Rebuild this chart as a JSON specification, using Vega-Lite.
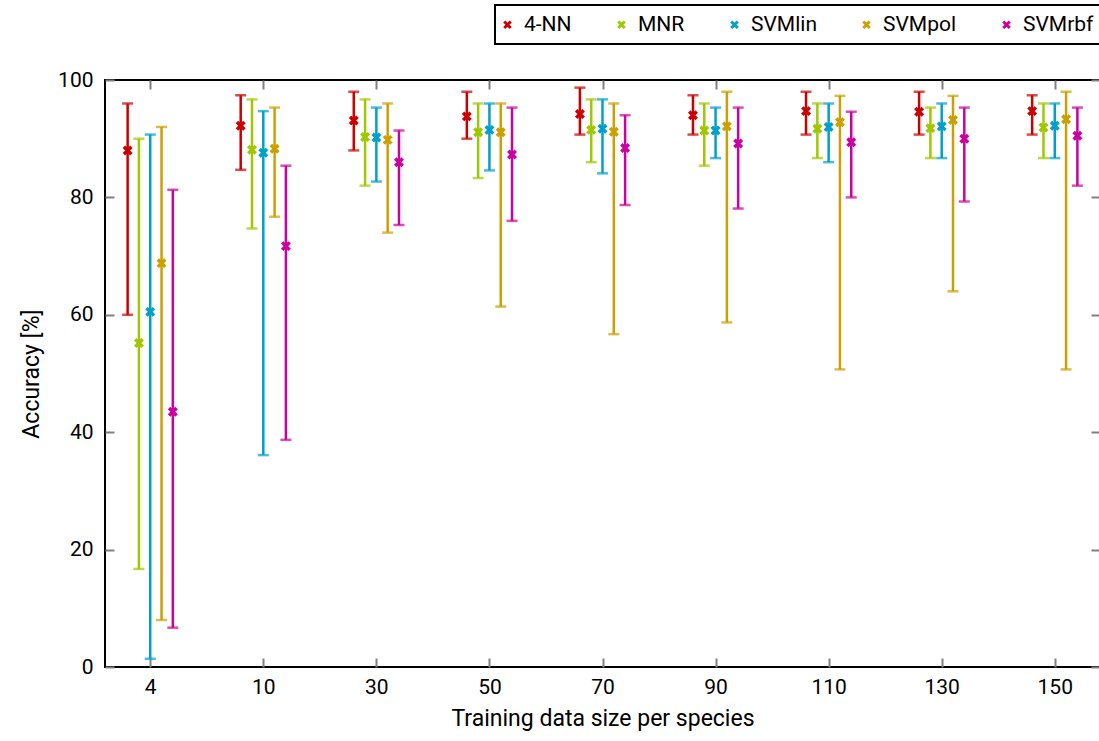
{
  "$schema": "https://vega.github.io/schema/vega-lite/v6.json",
  "autosize": "none",
  "width": 995,
  "height": 587,
  "padding": {"left": 105, "top": 80, "right": 0, "bottom": 74},
  "background": "white",
  "config": {
    "view": {"stroke": "black", "strokeWidth": 2},
    "font": "Roboto",
    "axis": {
      "grid": false,
      "domain": false,
      "tickColor": "#808080",
      "tickWidth": 2,
      "tickSize": -9,
      "labelFont": "Roboto",
      "labelFontSize": 21,
      "labelColor": "black",
      "titleFont": "Roboto",
      "titleFontSize": 23,
      "titleFontWeight": "normal",
      "titleColor": "black"
    }
  },
  "data": {
    "values": [
      {"size": "4", "series": "4-NN", "mean": 88.0, "lo": 60.0, "hi": 96.0},
      {"size": "4", "series": "MNR", "mean": 55.2, "lo": 16.7, "hi": 90.0},
      {"size": "4", "series": "SVMlin", "mean": 60.5, "lo": 1.4, "hi": 90.7},
      {"size": "4", "series": "SVMpol", "mean": 68.8, "lo": 8.0, "hi": 92.0},
      {"size": "4", "series": "SVMrbf", "mean": 43.5, "lo": 6.7, "hi": 81.3},
      {"size": "10", "series": "4-NN", "mean": 92.2, "lo": 84.7, "hi": 97.4},
      {"size": "10", "series": "MNR", "mean": 88.1, "lo": 74.7, "hi": 96.7},
      {"size": "10", "series": "SVMlin", "mean": 87.6, "lo": 36.1, "hi": 94.7},
      {"size": "10", "series": "SVMpol", "mean": 88.3, "lo": 76.7, "hi": 95.3},
      {"size": "10", "series": "SVMrbf", "mean": 71.7, "lo": 38.7, "hi": 85.4},
      {"size": "30", "series": "4-NN", "mean": 93.1, "lo": 88.0, "hi": 98.0},
      {"size": "30", "series": "MNR", "mean": 90.3, "lo": 82.0, "hi": 96.7},
      {"size": "30", "series": "SVMlin", "mean": 90.2, "lo": 82.7, "hi": 95.3},
      {"size": "30", "series": "SVMpol", "mean": 89.8, "lo": 74.0, "hi": 96.0},
      {"size": "30", "series": "SVMrbf", "mean": 86.0, "lo": 75.3, "hi": 91.4},
      {"size": "50", "series": "4-NN", "mean": 93.8, "lo": 90.0, "hi": 98.0},
      {"size": "50", "series": "MNR", "mean": 91.1, "lo": 83.3, "hi": 96.0},
      {"size": "50", "series": "SVMlin", "mean": 91.5, "lo": 84.6, "hi": 96.0},
      {"size": "50", "series": "SVMpol", "mean": 91.1, "lo": 61.4, "hi": 96.0},
      {"size": "50", "series": "SVMrbf", "mean": 87.3, "lo": 76.0, "hi": 95.3},
      {"size": "70", "series": "4-NN", "mean": 94.2, "lo": 90.7, "hi": 98.7},
      {"size": "70", "series": "MNR", "mean": 91.5, "lo": 86.0, "hi": 96.7},
      {"size": "70", "series": "SVMlin", "mean": 91.7, "lo": 84.1, "hi": 96.7},
      {"size": "70", "series": "SVMpol", "mean": 91.2, "lo": 56.7, "hi": 96.0},
      {"size": "70", "series": "SVMrbf", "mean": 88.4, "lo": 78.7, "hi": 94.0},
      {"size": "90", "series": "4-NN", "mean": 94.0, "lo": 90.7, "hi": 97.4},
      {"size": "90", "series": "MNR", "mean": 91.4, "lo": 85.4, "hi": 96.0},
      {"size": "90", "series": "SVMlin", "mean": 91.4, "lo": 86.7, "hi": 95.3},
      {"size": "90", "series": "SVMpol", "mean": 92.1, "lo": 58.7, "hi": 98.0},
      {"size": "90", "series": "SVMrbf", "mean": 89.2, "lo": 78.1, "hi": 95.3},
      {"size": "110", "series": "4-NN", "mean": 94.7, "lo": 90.7, "hi": 98.0},
      {"size": "110", "series": "MNR", "mean": 91.7, "lo": 86.7, "hi": 96.0},
      {"size": "110", "series": "SVMlin", "mean": 92.0, "lo": 86.0, "hi": 96.0},
      {"size": "110", "series": "SVMpol", "mean": 92.8, "lo": 50.7, "hi": 97.3},
      {"size": "110", "series": "SVMrbf", "mean": 89.4, "lo": 80.0, "hi": 94.6},
      {"size": "130", "series": "4-NN", "mean": 94.6, "lo": 90.7, "hi": 98.0},
      {"size": "130", "series": "MNR", "mean": 91.8, "lo": 86.7, "hi": 95.3},
      {"size": "130", "series": "SVMlin", "mean": 92.1, "lo": 86.7, "hi": 96.0},
      {"size": "130", "series": "SVMpol", "mean": 93.2, "lo": 64.0, "hi": 97.3},
      {"size": "130", "series": "SVMrbf", "mean": 90.0, "lo": 79.3, "hi": 95.3},
      {"size": "150", "series": "4-NN", "mean": 94.7, "lo": 90.7, "hi": 97.4},
      {"size": "150", "series": "MNR", "mean": 91.9, "lo": 86.7, "hi": 96.0},
      {"size": "150", "series": "SVMlin", "mean": 92.2, "lo": 86.7, "hi": 96.0},
      {"size": "150", "series": "SVMpol", "mean": 93.3, "lo": 50.7, "hi": 98.0},
      {"size": "150", "series": "SVMrbf", "mean": 90.5, "lo": 82.0, "hi": 95.3}
    ]
  },
  "encoding": {
    "xOffset": {
      "field": "series",
      "type": "nominal",
      "sort": ["4-NN", "MNR", "SVMlin", "SVMpol", "SVMrbf"],
      "scale": {"type": "point", "padding": 0, "range": [-22.6, 22.6]}
    },
    "color": {
      "field": "series",
      "type": "nominal",
      "sort": ["4-NN", "MNR", "SVMlin", "SVMpol", "SVMrbf"],
      "scale": {
        "domain": ["4-NN", "MNR", "SVMlin", "SVMpol", "SVMrbf"],
        "range": ["#cc0000", "#a0c800", "#00a0cc", "#cca000", "#cc00a0"]
      },
      "legend": {
        "orient": "none",
        "legendX": 390,
        "legendY": -75,
        "direction": "horizontal",
        "columns": 5,
        "title": null,
        "strokeColor": "black",
        "cornerRadius": 0,
        "padding": 9,
        "fillColor": "white",
        "labelFont": "Roboto",
        "labelFontSize": 21,
        "labelColor": "black",
        "labelOffset": 6,
        "symbolOffset": -7,
        "columnPadding": 40,
        "symbolType": "M-1,-1L1,1M-1,1L1,-1",
        "symbolSize": 42,
        "symbolStrokeWidth": 3,
        "symbolFillColor": "transparent",
        "encode": {"legend": {"update": {"strokeWidth": {"value": 2}}}}
      }
    }
  },
  "layer": [
    {
      "mark": {"type": "rule", "strokeWidth": 2.5},
      "encoding": {
        "x": {
          "field": "size",
          "type": "ordinal",
          "sort": ["4", "10", "30", "50", "70", "90", "110", "130", "150"],
          "scale": {"type": "point", "padding": 0.4},
          "axis": {"orient": "bottom", "title": "Training data size per species", "labelAngle": 0, "labelPadding": 18, "titlePadding": 10}
        },
        "y": {
          "field": "lo",
          "type": "quantitative",
          "scale": {"domain": [0, 100], "nice": false},
          "axis": {"orient": "left", "title": "Accuracy [%]", "values": [0, 20, 40, 60, 80, 100], "labelPadding": 21, "titlePadding": 14}
        },
        "y2": {"field": "hi"}
      }
    },
    {
      "mark": {"type": "tick", "thickness": 2.5, "size": 11},
      "encoding": {
        "x": {
          "field": "size",
          "type": "ordinal",
          "sort": ["4", "10", "30", "50", "70", "90", "110", "130", "150"],
          "axis": {"orient": "top", "title": null, "labels": false}
        },
        "y": {
          "field": "hi",
          "type": "quantitative",
          "axis": {"orient": "right", "title": null, "labels": false, "values": [0, 20, 40, 60, 80, 100]}
        }
      }
    },
    {
      "mark": {"type": "tick", "thickness": 2.5, "size": 11},
      "encoding": {
        "x": {
          "field": "size",
          "type": "ordinal",
          "sort": ["4", "10", "30", "50", "70", "90", "110", "130", "150"],
          "axis": null
        },
        "y": {"field": "lo", "type": "quantitative", "axis": null}
      }
    },
    {
      "mark": {"type": "point", "shape": "M-1,-1L1,1M-1,1L1,-1", "filled": false, "strokeWidth": 3.5, "size": 56, "opacity": 1},
      "encoding": {
        "x": {
          "field": "size",
          "type": "ordinal",
          "sort": ["4", "10", "30", "50", "70", "90", "110", "130", "150"],
          "axis": null
        },
        "y": {"field": "mean", "type": "quantitative", "axis": null}
      }
    }
  ],
  "resolve": {"axis": {"x": "independent", "y": "independent"}}
}
